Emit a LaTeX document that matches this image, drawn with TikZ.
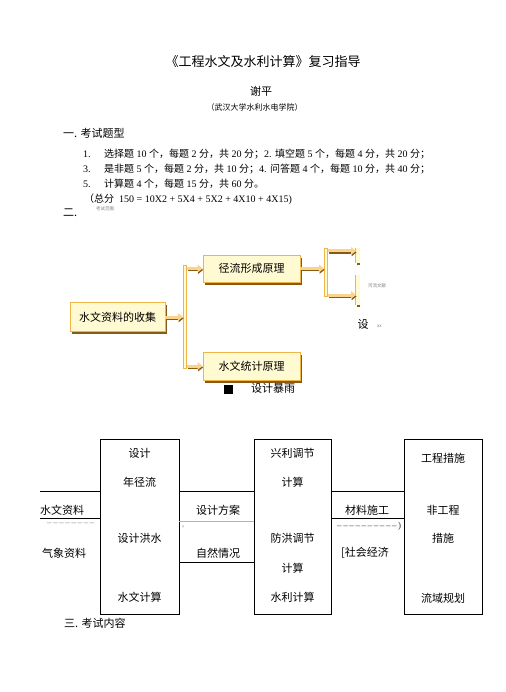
\documentclass[tikz,border=0pt]{standalone}
\usepackage{fontspec}
\setmainfont{Liberation Serif}
\newfontfamily\cjk{Noto Sans CJK SC}
\usetikzlibrary{arrows.meta,shadows}
\definecolor{cream}{HTML}{FFFAD2}
\definecolor{obord}{HTML}{F0B548}
\definecolor{oshadow}{HTML}{8A5A14}
\definecolor{oarrow}{HTML}{F9D48A}
\newcommand{\zh}[1]{{\cjk #1}}
\newcommand{\dsh}{–\kern1.6pt}
\begin{document}
\begin{tikzpicture}[x=1pt,y=-1pt,
  txt/.style={inner sep=0pt, font=\cjk\fontsize{11}{11}\selectfont},
  lst/.style={inner sep=0pt, anchor=west, font=\fontsize{10}{10}\selectfont},
  tiny/.style={inner sep=0pt, text=gray, font=\cjk\fontsize{4.5}{5}\selectfont},
  obox/.style={draw=obord, fill=cream, line width=0.8pt, inner sep=0pt,
     font=\cjk\fontsize{11}{11}\selectfont,
     drop shadow={shadow xshift=2pt, shadow yshift=-2.5pt, fill=oshadow, opacity=1}},
  obar/.style={draw=obord, fill=cream, line width=0.6pt, inner sep=0pt, minimum width=3.5},
  bbox/.style={draw=black, line width=0.9pt, inner sep=0pt},
  bline/.style={draw=black, line width=0.8pt},
  oarr/.style={line width=3pt, draw=oarrow, -{Triangle[length=5pt,width=7.5pt]}},
  oarrsh/.style={line width=3pt, draw=oshadow, -{Triangle[length=5pt,width=7.5pt]}},
]
\useasboundingbox[fill=white] (0,0) rectangle (505,692);

% ---- heading ----
\node[inner sep=0pt, font=\cjk\fontsize{13}{13}\selectfont] (title) at (263,62) {《工程水文及水利计算》复习指导};
\node[txt] (author) at (261,91) {谢平};
\node[inner sep=0pt, font=\cjk\fontsize{8}{8}\selectfont] (inst) at (254.5,107) {（武汉大学水利水电学院）};

\node[txt, anchor=west] (s1) at (63,133) {一. 考试题型};
\node[lst] (n1) at (83,154) {1.};
\node[lst] (l1) at (104,154) {\zh{选择题} 10 \zh{个，每题} 2 \zh{分，共} 20 \zh{分；}2. \zh{填空题} 5 \zh{个，每题} 4 \zh{分，共} 20 \zh{分；}};
\node[lst] (n2) at (83,169) {3.};
\node[lst] (l2) at (104,169) {\zh{是非题} 5 \zh{个，每题} 2 \zh{分，共} 10 \zh{分；}4. \zh{问答题} 4 \zh{个，每题} 10 \zh{分，共} 40 \zh{分；}};
\node[lst] (n3) at (83,184) {5.};
\node[lst] (l3) at (104,184) {\zh{计算题} 4 \zh{个，每题} 15 \zh{分，共} 60 \zh{分。}};
\node[lst] (l4) at (84,199) {\zh{（总分}\ \ 150 = 10X2 + 5X4 + 5X2 + 4X10 + 4X15)};
\node[txt, anchor=west] (s2) at (63,213) {二.};
\node[tiny, anchor=west] (s2t) at (96,209) {考试范围};

% ---- orange diagram ----
\node[obox, minimum width=95, minimum height=29] (sw) at (117.5,317) {水文资料的收集};
\node[obox, minimum width=97, minimum height=27] (jl) at (251.5,268.5) {径流形成原理};
\node[obox, minimum width=97, minimum height=28] (tj) at (251.5,366) {水文统计原理};
\node[obar, minimum height=103] (br1) at (185,316.5) {};
\node[obar, minimum height=48] (br2) at (326,272.5) {};
\node[fill=cream, inner sep=0pt, minimum width=4, minimum height=15] (p1) at (358,255.5) {};
\node[fill=cream, inner sep=0pt, minimum width=4, minimum height=30] (p2) at (358,290) {};
\draw[obord, line width=0.8pt] (p1.north west) -- (p1.south west);
\draw[obord, line width=0.8pt] (p2.north west) -- (p2.south west);
\draw[oshadow, line width=1.5pt] ([xshift=1pt,yshift=-1pt]p1.south west) -- ++(3,0);
\draw[oshadow, line width=1.5pt] ([xshift=1pt,yshift=-1pt]p2.south west) -- ++(3,0);
\coordinate (q1) at (356,251);
\coordinate (q2) at (356,295);

\draw[oarrsh, transform canvas={xshift=0.6pt,yshift=-1.4pt}] (sw.east) -- (br1.west |- sw.east);
\draw[oarr] (sw.east) -- (br1.west |- sw.east);
\draw[oarrsh, transform canvas={xshift=0.6pt,yshift=-1.4pt}] (br1.east |- jl.west) -- (jl.west);
\draw[oarr] (br1.east |- jl.west) -- (jl.west);
\draw[oarrsh, transform canvas={xshift=0.6pt,yshift=-1.4pt}] (br1.east |- tj.west) -- (tj.west);
\draw[oarr] (br1.east |- tj.west) -- (tj.west);
\draw[oarrsh, transform canvas={xshift=0.6pt,yshift=-1.4pt}] (jl.east) -- (br2.west |- jl.east);
\draw[oarr] (jl.east) -- (br2.west |- jl.east);
\draw[oarrsh, transform canvas={xshift=0.6pt,yshift=-1.4pt}] (br2.east |- q1) -- (q1);
\draw[oarr] (br2.east |- q1) -- (q1);
\draw[oarrsh, transform canvas={xshift=0.6pt,yshift=-1.4pt}] (br2.east |- q2) -- (q2);
\draw[oarr] (br2.east |- q2) -- (q2);

\node[tiny, anchor=west] (hl) at (368,286) {河流文献};
\node[txt] (she) at (363,324) {设};
\node[tiny, anchor=west] (shet) at (377,326) {xx};
\node[fill=black, inner sep=0pt, minimum size=9] (sq) at (228,389) {};
\node[txt, anchor=west] (bl) at (251,388) {设计暴雨};

% ---- boxes diagram ----
\node[bbox, minimum width=79, minimum height=175] (A) at (139.5,526.5) {};
\node[bbox, minimum width=77, minimum height=175] (B) at (292.5,526.5) {};
\node[bbox, minimum width=78, minimum height=175] (C) at (443,526.5) {};

\node[txt] (a1) at (139.5,453) {设计};
\node[txt] (a2) at (139.5,482) {年径流};
\node[txt] (a3) at (139.5,538) {设计洪水};
\node[txt] (a4) at (139.5,597) {水文计算};
\node[txt] (b1) at (292.5,453) {兴利调节};
\node[txt] (b2) at (292.5,482) {计算};
\node[txt] (b3) at (292.5,538) {防洪调节};
\node[txt] (b4) at (292.5,568) {计算};
\node[txt] (b5) at (292.5,597) {水利计算};
\node[txt] (c1) at (443,458) {工程措施};
\node[txt] (c2) at (443,510) {非工程};
\node[txt] (c3) at (443,538) {措施};
\node[txt] (c4) at (443,598) {流域规划};

\coordinate (L1) at (40,491);
\coordinate (L2) at (40,518);
\coordinate (M2) at (0,562);
\coordinate (M3) at (0,521);
\draw[bline] (L1) -- (L1 -| A.west);
\draw[bline] (L2) -- (L2 -| A.west);
\draw[bline] (A.east |- L1) -- (B.west |- L1);
\draw[bline] (A.east |- M2) -- (B.west |- M2);
\draw[gray!60, line width=0.4pt] (A.east |- M3) -- (B.west |- M3);
\draw[bline] (B.east |- L1) -- (C.west |- L1);
\draw[bline] (B.east |- L2) -- (C.west |- L2);

\node[txt, anchor=west] (lw) at (40,510) {水文资料};
\node[inner sep=0pt, anchor=west, text=gray, font=\fontsize{9}{9}\selectfont] (ld) at (47,524) {\dsh\dsh\dsh\dsh\dsh\dsh\dsh\dsh};
\node[txt, anchor=west] (lq) at (42,553) {气象资料};
\node[txt] (m1) at (218,510) {设计方案};
\node[txt] (m2) at (218,553) {自然情况};
\node[inner sep=0pt, font=\fontsize{4}{4}\selectfont] (caret) at (183,527) {\textasciicircum};
\node[txt] (r1) at (367,510) {材料施工};
\node[inner sep=0pt, anchor=west, text=black!80, font=\fontsize{9}{9}\selectfont] (rd) at (337,526) {\dsh\dsh\dsh\dsh\dsh\dsh\dsh\dsh\dsh\dsh)};
\node[txt, anchor=west] (r2) at (341,553) {[社会经济};

\node[txt, anchor=west] (s3) at (64,623) {三. 考试内容};
\end{tikzpicture}
\end{document}
